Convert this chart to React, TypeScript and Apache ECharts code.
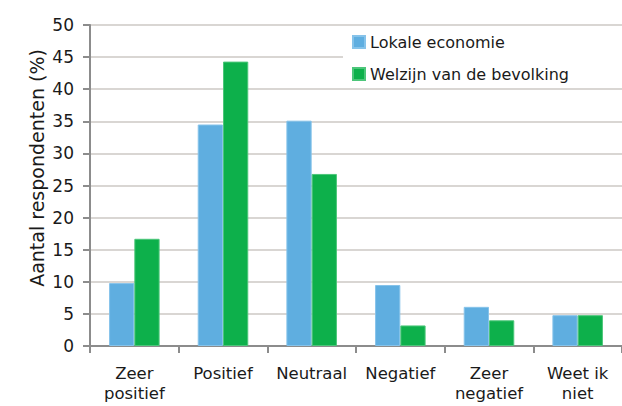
import React, { useEffect, useRef } from "react";
import * as echarts from "echarts";

const categories = ["Zeer\npositief", "Positief", "Neutraal", "Negatief", "Zeer\nnegatief", "Weet ik\nniet"];
const seriesNames = ["Lokale economie", "Welzijn van de bevolking"];
const lokaleEconomie = [9.8, 34.5, 35.1, 9.5, 6.1, 4.8];
const welzijn = [16.7, 44.3, 26.8, 3.2, 4.0, 4.8];
const yTitle = "Aantal respondenten (%)";

const FONT = "'DejaVu Sans', Verdana, sans-serif";

export default function App() {
  const ref = useRef<HTMLDivElement>(null);
  useEffect(() => {
    if (!ref.current) return;
    const chart = echarts.init(ref.current, undefined, { renderer: "svg" });
    chart.setOption({
      animation: false,
      backgroundColor: "#ffffff",
      textStyle: { fontFamily: FONT },
      grid: { left: 90, top: 25, bottom: 60, width: 535, containLabel: false },
      graphic: [
        {
          type: "text",
          x: 36.5,
          y: 168,
          rotation: Math.PI / 2,
          style: {
            text: yTitle,
            fontFamily: FONT,
            fontSize: 19,
            fill: "#1a1a1a",
            align: "center",
            verticalAlign: "middle",
          },
        },
      ],
      legend: {
        orient: "vertical",
        left: 343,
        top: 28,
        padding: [6, 60, 6, 9],
        backgroundColor: "#ffffff",
        itemWidth: 12,
        itemHeight: 12,
        itemGap: 16,
        icon: "rect",
        textStyle: { fontFamily: FONT, fontSize: 16, color: "#1a1a1a", lineHeight: 16 },
        data: seriesNames,
      },
      xAxis: {
        type: "category",
        data: categories,
        axisLine: { lineStyle: { color: "#8c8c8c", width: 2 } },
        axisTick: { show: true, length: 7, lineStyle: { color: "#8c8c8c", width: 2 } },
        axisLabel: {
          fontFamily: FONT,
          fontSize: 16.5,
          color: "#1a1a1a",
          lineHeight: 20,
          margin: 17,
          interval: 0,
        },
      },
      yAxis: {
        type: "value",
        min: 0,
        max: 50,
        interval: 5,
        axisLine: { show: true, lineStyle: { color: "#8c8c8c", width: 2 } },
        axisTick: { show: true, length: 7, lineStyle: { color: "#8c8c8c", width: 2 } },
        axisLabel: { fontFamily: FONT, fontSize: 17, color: "#1a1a1a", margin: 16 },
        splitLine: { show: true, lineStyle: { color: "#d9d6d3", width: 2 } },
      },
      series: [
        {
          name: seriesNames[0],
          type: "bar",
          data: lokaleEconomie,
          barGap: "0%",
          barCategoryGap: "43%",
          itemStyle: { color: "#5faee0", borderColor: "#86c3ea", borderWidth: 1 },
        },
        {
          name: seriesNames[1],
          type: "bar",
          data: welzijn,
          barGap: "0%",
          barCategoryGap: "43%",
          itemStyle: { color: "#0db04b", borderColor: "#4cc67a", borderWidth: 1 },
        },
      ],
    });
    return () => chart.dispose();
  }, []);
  return (
    <div
      ref={ref}
      style={{ position: "fixed", left: 0, top: 0, width: 622, height: 406 }}
    />
  );
}
